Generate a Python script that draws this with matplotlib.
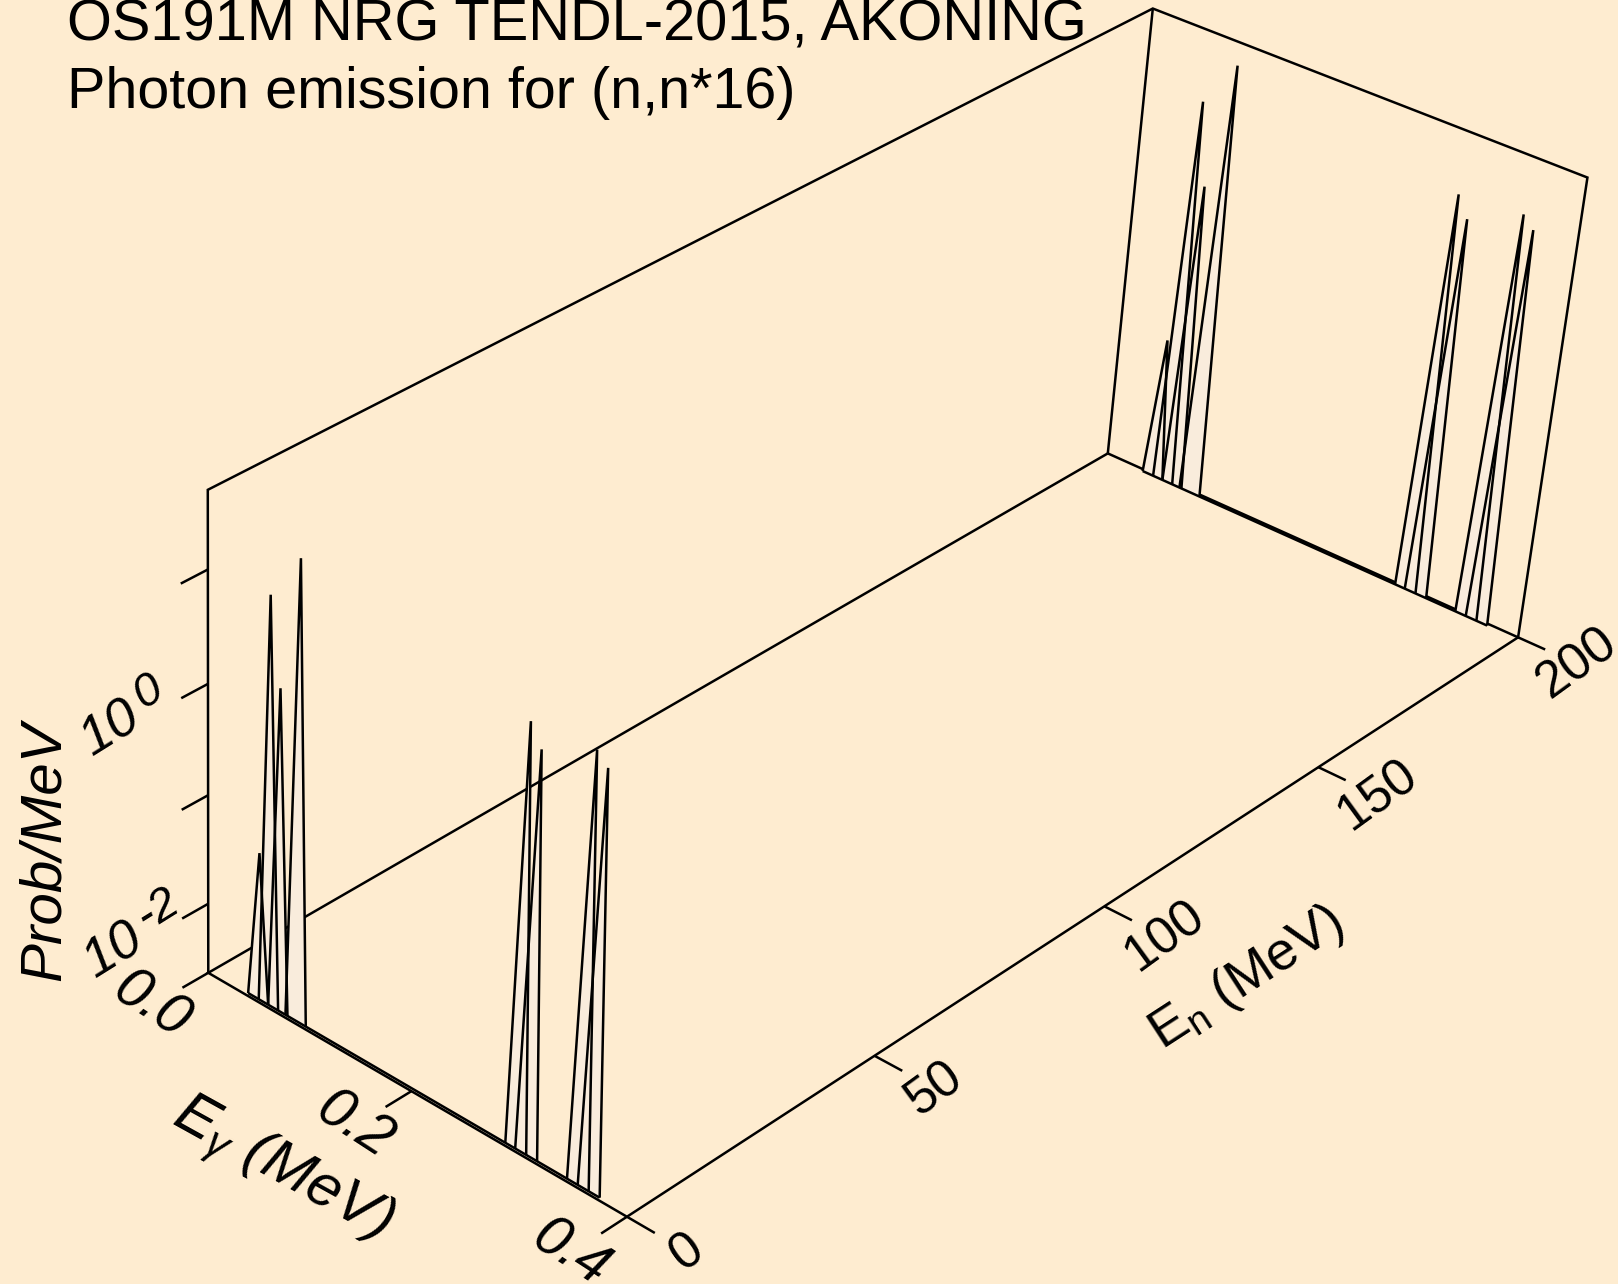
#!/usr/bin/python

import numpy as np
import matplotlib
matplotlib.use('Agg')
import matplotlib.pyplot as plt

plt.rcParams['font.family'] = ['Liberation Sans', 'DejaVu Sans']
plt.rcParams['mathtext.fontset'] = 'custom'
plt.rcParams['mathtext.rm'] = 'Liberation Sans'
plt.rcParams['mathtext.it'] = 'Liberation Sans:italic'

# Spectrum: every gamma line is a narrow triangle (left foot, peak, right foot), MeV
gamma_left = [0.0376, 0.0482, 0.0576, 0.0748, 0.2862, 0.2954, 0.3432, 0.3530]
gamma_peak = [0.0482, 0.0576, 0.0675, 0.0857, 0.2954, 0.3056, 0.3530, 0.3630]
gamma_right = [0.0576, 0.0675, 0.0768, 0.0949, 0.3056, 0.3157, 0.3630, 0.3730]
peak_prob = [0.051, 11.0, 1.9, 30.5, 13.2, 8.6, 14.8, 11.7]
floor_prob = 0.00224
top_prob = 48.0

# The spectrum is only drawn at the two ends of the neutron energy range
neutron_energies = [199.5, 0.5]

gamma_ticks = [0.0, 0.2, 0.4]
gamma_tick_labels = ['0.0', '0.2', '0.4']
neutron_ticks = [0, 50, 100, 150, 200]
prob_ticks = [0.01, 0.1, 1.0, 10.0]
prob_labels = {0.01: '-2', 1.0: '0'}

background = '#feecd0'
fill_colour = '#f9ecdc'

# Perspective camera, fitted on where box corners and axis ticks sit in the picture
# (gamma, neutron, log10 prob) -> (pixel x, pixel y)
lo = np.log10(floor_prob)
hi = np.log10(top_prob)
calibration = [
    (0.0, 0, lo, 208, 973), (0.4, 0, lo, 627, 1217),
    (0.4, 200, lo, 1517, 638), (0.0, 200, lo, 1108, 454),
    (0.0, 0, hi, 208, 490), (0.0, 200, hi, 1153, 8), (0.4, 200, hi, 1587, 177),
    (0.2, 0, lo, 411, 1091), (0.4, 50, lo, 875, 1056),
    (0.4, 100, lo, 1104, 906), (0.4, 150, lo, 1320, 767),
    (0.0, 0, -2, 208, 902), (0.0, 0, -1, 208, 795),
    (0.0, 0, 0, 208, 684), (0.0, 0, 1, 208, 571),
]

def scaled(gamma, neutron, logp):
    return gamma / 0.4, neutron / 200.0, (logp - lo) / (hi - lo)

def fit_camera(points):
    rows = []
    rhs = []
    for g, n, z, px, py in points:
        a, b, c = scaled(g, n, z)
        rows.append([a, b, c, 1, 0, 0, 0, 0, -px*a, -px*b, -px*c])
        rows.append([0, 0, 0, 0, a, b, c, 1, -py*a, -py*b, -py*c])
        rhs += [px, py]
    sol = np.linalg.lstsq(np.array(rows, float), np.array(rhs, float), rcond=None)[0]
    return np.append(sol, 1.0).reshape(3, 4)

camera = fit_camera(calibration)

def project(gamma, neutron, logp):
    a, b, c = scaled(np.asarray(gamma, float), np.asarray(neutron, float), np.asarray(logp, float))
    x, y, w = camera @ np.array([a, b, c, np.ones_like(a)])
    return x / w, y / w

def line3d(ax, gamma, neutron, logp, lw=1.8, zorder=3):
    x, y = project(gamma, neutron, logp)
    ax.plot(x, y, color='black', lw=lw, solid_capstyle='butt', solid_joinstyle='miter', zorder=zorder)

fig = plt.figure(figsize=(16.18, 12.84), dpi=100, facecolor=background)
ax = fig.add_axes([0, 0, 1, 1])
ax.set_xlim(0, 1618)
ax.set_ylim(1284, 0)
ax.axis('off')

# Box, below the filled spectra
line3d(ax, [0.0, 0.0, 0.0, 0.4, 0.4, 0.0], [0, 0, 200, 200, 200, 200], [lo, hi, hi, hi, lo, lo], zorder=1)
line3d(ax, [0.0, 0.0], [200, 200], [lo, hi], zorder=1)
line3d(ax, [0.0, 0.0, 0.4, 0.4], [200, 0, 0, 200], [lo, lo, lo, lo], zorder=1)

# Ticks
for g in gamma_ticks:
    line3d(ax, [g, g], [0, -5], [lo, lo])
for n in neutron_ticks:
    line3d(ax, [0.4, 0.425], [n, n], [lo, lo])
for p in prob_ticks:
    line3d(ax, [0.0, 0.0], [0, -5], [np.log10(p)] * 2)

# Spectra, far one first
for en in neutron_energies:
    for left, peak, right, prob in zip(gamma_left, gamma_peak, gamma_right, peak_prob):
        xs, ys = project([left, peak, right], [en] * 3, [lo, np.log10(prob), lo])
        ax.fill(xs, ys, facecolor=fill_colour, edgecolor='none', zorder=2)
for en in neutron_energies:
    for left, peak, right, prob in zip(gamma_left, gamma_peak, gamma_right, peak_prob):
        line3d(ax, [left, peak, right], [en] * 3, [lo, np.log10(prob), lo])
    line3d(ax, [gamma_left[0], gamma_right[-1]], [en, en], [lo, lo])

# Tick labels
for g, text in zip(gamma_ticks, gamma_tick_labels):
    x, y = project(g, -11, lo)
    ax.text(x, y, text, fontsize=41, style='italic', rotation=-33,
            rotation_mode='anchor', ha='center', va='center', clip_on=False)
for n in neutron_ticks:
    x, y = project(0.454, n, lo)
    ax.text(x, y, str(n), fontsize=37, rotation=36,
            rotation_mode='anchor', ha='center', va='center', clip_on=False)
for p, exponent in prob_labels.items():
    x, y = project(0.0, -18, np.log10(p) + 0.06)
    ax.text(x, y, '10', fontsize=39, style='italic', rotation=32,
            rotation_mode='anchor', ha='center', va='center')
    x, y = project(0.0, -13, np.log10(p) + 0.2)
    ax.text(x, y, exponent, fontsize=34, style='italic', rotation=32,
            rotation_mode='anchor', ha='left', va='center')

# Axis titles
ax.text(281, 1170, r'E$_{\gamma}$ (MeV)', fontsize=43, style='italic', rotation=-29,
        rotation_mode='anchor', ha='center', va='center')
ax.text(1247, 978, r'E$_{\mathrm{n}}$ (MeV)', fontsize=39, rotation=33,
        rotation_mode='anchor', ha='center', va='center')
ax.text(45, 851, 'Prob/MeV', fontsize=42, style='italic', rotation=90,
        rotation_mode='anchor', ha='center', va='center')

# Title, cut by the top edge as in the original
ax.text(67, 40, 'OS191M NRG TENDL-2015, AKONING', fontsize=41.6, ha='left', va='baseline')
ax.text(67, 108, 'Photon emission for (n,n*16)', fontsize=41.4, ha='left', va='baseline')

plt.savefig('out.png', dpi=100, facecolor=background)
